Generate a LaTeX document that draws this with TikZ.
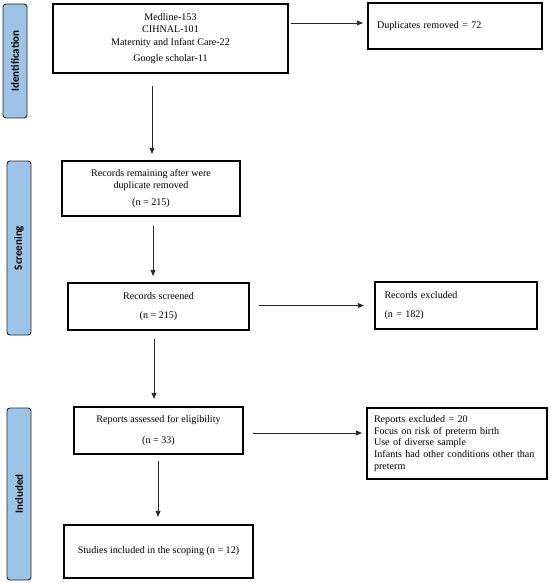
\documentclass[tikz,border=0pt]{standalone}
\usepackage{fontspec}
\setmainfont{Liberation Serif}
\newfontfamily\labfont{Carlito}
\usetikzlibrary{arrows.meta}
\definecolor{phase}{RGB}{157,195,230}
\begin{document}
\begin{tikzpicture}[x=1pt,y=-1pt,
  box/.style={draw=black, line width=1.2pt, rectangle, inner sep=0pt, font=\fontsize{10.1}{12.3}\selectfont},
  phasebox/.style={draw=black!85, fill=phase, line width=0.9pt, rounded corners=3pt, inner sep=0pt},
  phasetext/.style={rotate=90, font=\labfont\bfseries\fontsize{11}{13}\selectfont},
  arr/.style={draw=black!85, line width=0.8pt, -{Latex[length=6.5pt,width=5.5pt]}}]
\useasboundingbox (0,0) rectangle (550,583);
% phase labels
\node[phasebox, minimum width=24pt, minimum height=114pt] (pid) at (15,61) {};
\node[phasetext] (pidt) at (pid.center) {Identification};
\node[phasebox, minimum width=24pt, minimum height=174pt] (psc) at (19,248) {};
\node[phasetext] (psct) at (psc.center) {Screening};
\node[phasebox, minimum width=24pt, minimum height=172pt] (pin) at (19,494) {};
\node[phasetext] (pint) at (pin.center) {Included};
% boxes
\node[box, minimum width=235pt, minimum height=69pt, align=center] (b1) at (170.5,38.5)
  {Medline-153\\CIHNAL-101\\Maternity and Infant Care-22\\[4pt]Google scholar-11};
\node[box, minimum width=174pt, minimum height=46pt, text width=156pt, align=left] (dup) at (455,26)
  {Duplicates removed = 72};
\node[box, minimum width=178pt, minimum height=55pt, align=center] (b2) at (151,188.5)
  {Records remaining after were\\duplicate removed\\[5pt](n = 215)};
\node[box, minimum width=181pt, minimum height=47pt, align=center] (b3) at (158.5,306.5)
  {Records screened\\[7pt](n = 215)};
\node[box, minimum width=162pt, minimum height=47pt, text width=143pt, align=left] (exc) at (456,305.5)
  {Records excluded\\[7pt](n = 182)};
\node[box, minimum width=169pt, minimum height=47pt, align=center] (b4) at (158.5,430.5)
  {Reports assessed for eligibility\\[8pt](n = 33)};
\node[box, minimum width=180pt, minimum height=71pt, text width=166pt, align=left,
  font=\fontsize{10.1}{11.6}\selectfont] (rep) at (457,443.5)
  {Reports excluded = 20\\Focus on risk of preterm birth\\Use of diverse sample\\Infants had other conditions other than preterm};
\node[box, minimum width=189pt, minimum height=53pt, align=center] (b5) at (158.5,551.5)
  {Studies included in the scoping (n = 12)};
% x positions of vertical arrows
\coordinate (x1) at (152,0);
\coordinate (x2) at (153,0);
\coordinate (x3) at (154,0);
\coordinate (x4) at (158,0);
% arrows
\draw[arr, shorten <=2pt, shorten >=4pt] ([yshift=3pt]b1.east |- dup.west) -- ([yshift=3pt]dup.west);
\draw[arr, shorten <=12pt, shorten >=6pt] (b1.south -| x1) -- (b2.north -| x1);
\draw[arr, shorten <=9pt, shorten >=6pt] (b2.south -| x2) -- (b3.north -| x2);
\draw[arr, shorten <=9pt, shorten >=10pt] (b3.east |- exc.west) -- (exc.west);
\draw[arr, shorten <=8pt, shorten >=7pt] (b3.south -| x3) -- (b4.north -| x3);
\draw[arr, shorten <=9pt, shorten >=4pt] ([yshift=-2.5pt]b4.east) -- ([yshift=-2.5pt]b4.east -| rep.west);
\draw[arr, shorten <=6pt, shorten >=7pt] (b4.south -| x4) -- (b5.north -| x4);
\end{tikzpicture}
\end{document}
